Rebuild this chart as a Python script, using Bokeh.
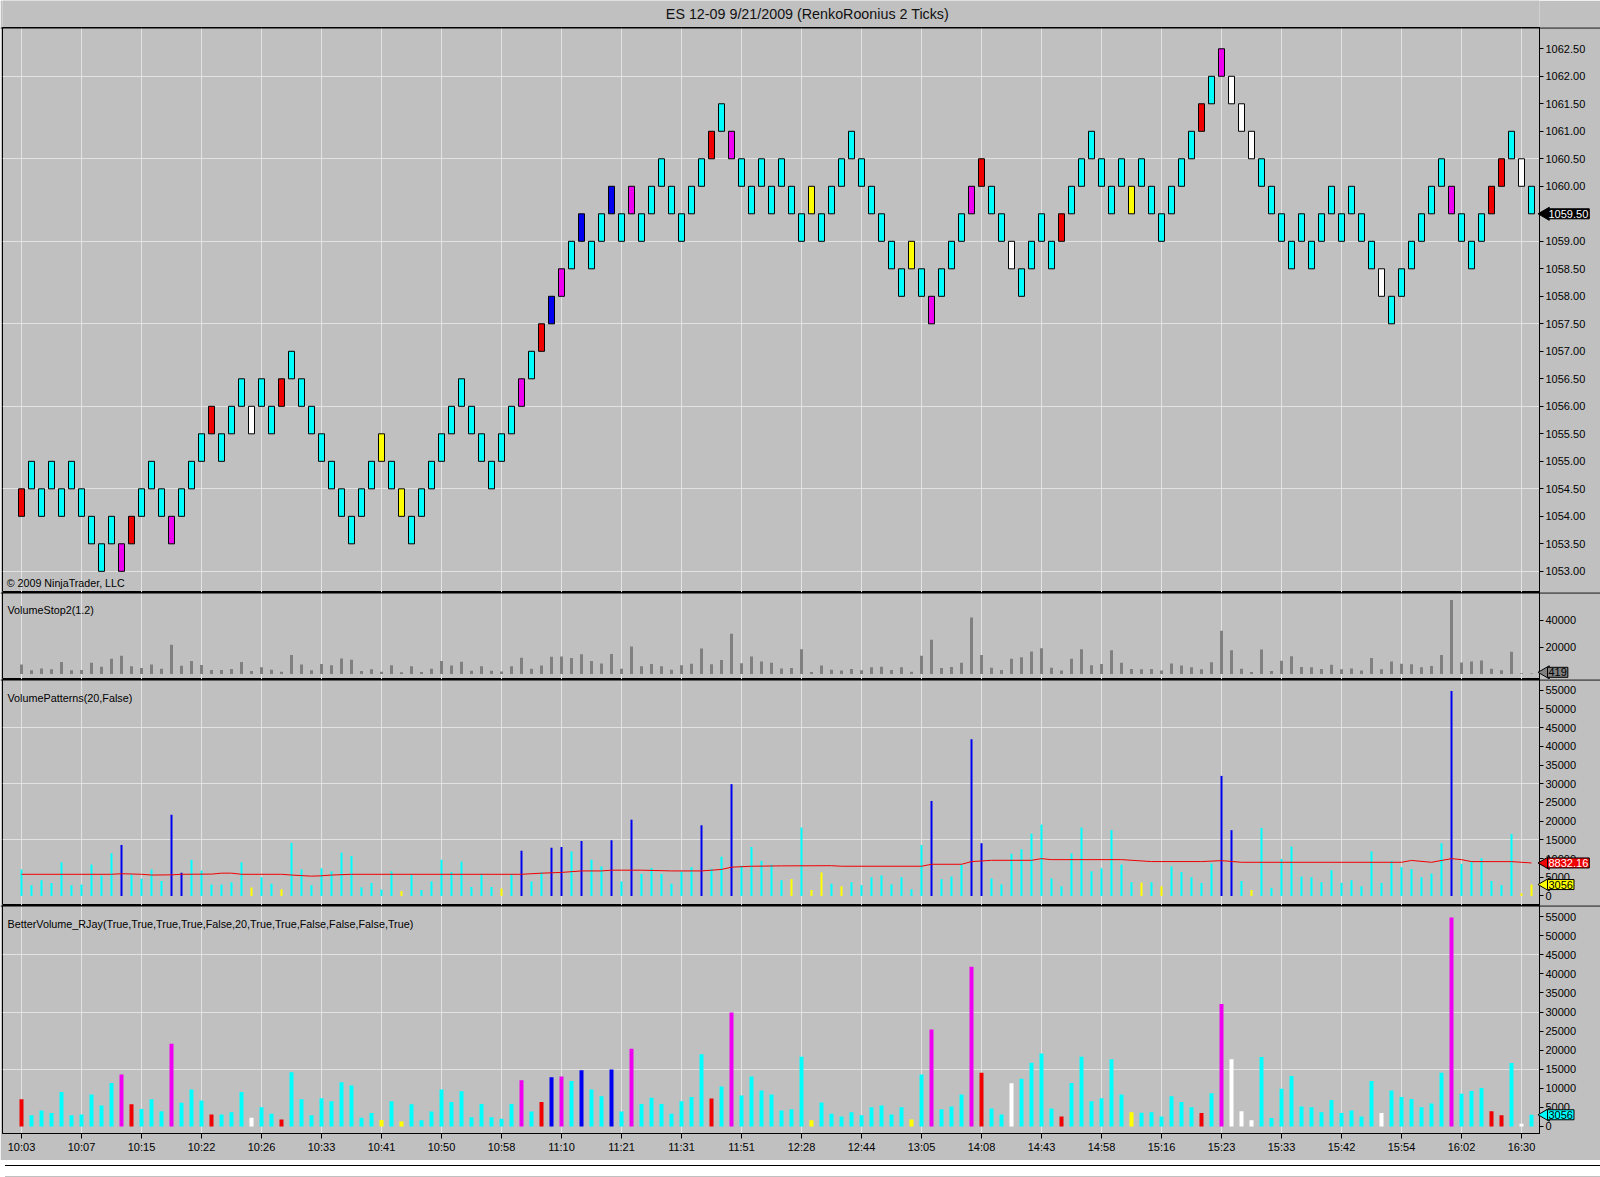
import math
from bokeh.plotting import figure
from bokeh.models import (ColumnDataSource, FixedTicker, Label, Range1d, PrintfTickFormatter,
                          Div, GridBox, Span)
from bokeh.layouts import column
from bokeh.embed import file_html
from bokeh.resources import INLINE

# ---------------- texts ----------------
title_text = "ES 12-09  9/21/2009 (RenkoRoonius 2 Ticks)"
copyright_text = "\u00a9 2009 NinjaTrader, LLC"
vs_name = "VolumeStop2(1.2)"
vp_name = "VolumePatterns(20,False)"
bv_name = "BetterVolume_RJay(True,True,True,True,False,20,True,True,False,False,False,True)"

# ---------------- data ----------------
brick_size = 0.5  # 2 ticks of 0.25
brick_high = [
    1054.5, 1055.0, 1054.5, 1055.0, 1054.5, 1055.0, 1054.5, 1054.0, 1053.5, 1054.0,
    1053.5, 1054.0, 1054.5, 1055.0, 1054.5, 1054.0, 1054.5, 1055.0, 1055.5, 1056.0,
    1055.5, 1056.0, 1056.5, 1056.0, 1056.5, 1056.0, 1056.5, 1057.0, 1056.5, 1056.0,
    1055.5, 1055.0, 1054.5, 1054.0, 1054.5, 1055.0, 1055.5, 1055.0, 1054.5, 1054.0,
    1054.5, 1055.0, 1055.5, 1056.0, 1056.5, 1056.0, 1055.5, 1055.0, 1055.5, 1056.0,
    1056.5, 1057.0, 1057.5, 1058.0, 1058.5, 1059.0, 1059.5, 1059.0, 1059.5, 1060.0,
    1059.5, 1060.0, 1059.5, 1060.0, 1060.5, 1060.0, 1059.5, 1060.0, 1060.5, 1061.0,
    1061.5, 1061.0, 1060.5, 1060.0, 1060.5, 1060.0, 1060.5, 1060.0, 1059.5, 1060.0,
    1059.5, 1060.0, 1060.5, 1061.0, 1060.5, 1060.0, 1059.5, 1059.0, 1058.5, 1059.0,
    1058.5, 1058.0, 1058.5, 1059.0, 1059.5, 1060.0, 1060.5, 1060.0, 1059.5, 1059.0,
    1058.5, 1059.0, 1059.5, 1059.0, 1059.5, 1060.0, 1060.5, 1061.0, 1060.5, 1060.0,
    1060.5, 1060.0, 1060.5, 1060.0, 1059.5, 1060.0, 1060.5, 1061.0, 1061.5, 1062.0,
    1062.5, 1062.0, 1061.5, 1061.0, 1060.5, 1060.0, 1059.5, 1059.0, 1059.5, 1059.0,
    1059.5, 1060.0, 1059.5, 1060.0, 1059.5, 1059.0, 1058.5, 1058.0, 1058.5, 1059.0,
    1059.5, 1060.0, 1060.5, 1060.0, 1059.5, 1059.0, 1059.5, 1060.0, 1060.5, 1061.0,
    1060.5, 1060.0,
]

# colour code per brick (also used by BetterVolume bars)
brick_color = list(
    "rccccccccc" "mrcccmcccr" "cccwccrccc" "ccccccycyc" "cccccccccc"
    "mcrbmcbccb" "cmcccccccr" "cmcccccccy" "cccccccccy" "cmcccmrccw"
    "ccccrccccc" "cyccccccrc" "mwwwcccccc" "ccccccwccc" "cccmcccrrc"
    "wc"
)

volume = [
    7100, 2900, 4200, 3500, 9000, 2900, 3100, 8400, 5500, 11400,
    13600, 5800, 4600, 7100, 4000, 21700, 6200, 9700, 6800, 3100,
    3100, 3700, 9000, 2300, 5000, 3300, 1800, 14200, 7100, 2900,
    7400, 6600, 11600, 10700, 2300, 3500, 1700, 6600, 1300, 5800,
    1600, 3900, 9700, 6400, 9200, 2400, 5900, 2400, 2000, 5900,
    12100, 3900, 6400, 12900, 13100, 11900, 14700, 9700, 7900, 14900,
    3900, 20400, 5900, 7500, 5900, 3300, 6600, 7700, 18900, 7300,
    10500, 29900, 8100, 13100, 9400, 8400, 4200, 4500, 18300, 1600,
    6300, 3300, 2600, 3700, 2900, 5000, 5500, 3100, 5000, 1800,
    13600, 25400, 4500, 5200, 8400, 41900, 14100, 4700, 3100, 11300,
    12500, 16700, 19100, 4700, 2600, 11400, 18300, 6600, 7400, 17600,
    8400, 3700, 3600, 3700, 2600, 7900, 6400, 5000, 3500, 8700,
    32100, 17600, 4000, 1600, 18200, 2200, 9900, 13200, 5200, 5000,
    3700, 6900, 3500, 4200, 2600, 11900, 3500, 9400, 7700, 7200,
    5000, 6000, 14100, 54800, 8600, 9300, 10100, 4000, 2900, 16600,
    700, 3056,
]

vp_color = list(
    "cccccccccc" "bccccbbccc" "cccyccyccc" "ccccccccyc" "ccccccccyc"
    "bccbbcbccb" "cbccccccbc" "cbcccccycy" "ycyccccccc" "cbcccbbccc"
    "cccccccccc" "ccycyccccc" "bbcycccccc" "cccccccccc" "cccbcccccc"
    "yy"
)

vstop_last = 419
vstop = volume[:-1] + [vstop_last]

avg_bar = [0, 9, 10, 12, 13, 15, 16, 19, 20, 21,
           22, 26, 27, 28, 29, 30, 31, 33, 50, 52,
           54, 56, 58, 59, 62, 65, 68, 69, 70, 71,
           73, 76, 81, 82, 90, 91, 94, 95, 97, 101,
           102, 103, 110, 113, 118, 120, 122, 138, 139, 141,
           143, 144, 145, 149, 151]
avg_val = [5800, 5800, 5950, 5800, 5600, 5650, 5800, 5850, 6100, 6100,
           5800, 5800, 5600, 5450, 5300, 5400, 5600, 5800, 5800, 6100,
           6300, 6700, 6700, 6900, 6900, 6700, 6700, 6900, 7100, 7700,
           7950, 8050, 8100, 7950, 7950, 8480, 8480, 9190, 9540, 9540,
           9980, 9720, 9720, 9200, 9200, 9450, 9010, 9010, 9500, 9010,
           9980, 9720, 9190, 9190, 8832.16]

time_ticks = [0, 6, 12, 18, 24, 30, 36, 42, 48, 54, 60, 66, 72, 78, 84, 90,
              96, 102, 108, 114, 120, 126, 132, 138, 144, 150]
time_labels = ["10:03", "10:07", "10:15", "10:22", "10:26", "10:33", "10:41", "10:50",
               "10:58", "11:10", "11:21", "11:31", "11:51", "12:28", "12:44", "13:05",
               "14:08", "14:43", "14:58", "15:16", "15:23", "15:33", "15:42", "15:54",
               "16:02", "16:30"]

price_ticks = [1053.0, 1053.5, 1054.0, 1054.5, 1055.0, 1055.5, 1056.0, 1056.5, 1057.0, 1057.5,
               1058.0, 1058.5, 1059.0, 1059.5, 1060.0, 1060.5, 1061.0, 1061.5, 1062.0, 1062.5]
price_grid = [1053.0, 1054.5, 1056.0, 1057.5, 1059.0, 1060.5, 1062.0]
vol_ticks = [0, 5000, 10000, 15000, 20000, 25000, 30000, 35000, 40000, 45000, 50000, 55000]
vol_grid = [15000, 30000, 45000]
vs_ticks = [20000, 40000]

last_price = 1059.50
last_avg = 8832.16
last_volume = 3056

# ---------------- style ----------------
COL = {"c": "#00FFFF", "r": "#F00000", "m": "#F000F0", "b": "#0000F0",
       "w": "#FFFFFF", "y": "#FFFF00"}
BG = "#C0C0C0"
GRID = "#E2E2E2"
FONT = "Liberation Sans"
W = 1600
BL, BR = 2, 61           # left / right borders of every panel (px)
N = len(brick_high)
XR0, XR1 = -1.9, 151.8
PPU = (W - BL - BR) / (XR1 - XR0)   # px per brick
OX0, OX1 = XR0 - BL / PPU, XR1 + BR / PPU
xr = Range1d(XR0, XR1)
idx = list(range(N))


def make_panel(h, yr, bottom=0, xaxis=False):
    p = figure(width=W, height=h, x_range=xr, y_range=yr,
               output_backend="svg", toolbar_location=None,
               y_axis_location="right",
               x_axis_location="below" if xaxis else None)
    p.min_border_left = BL
    p.min_border_right = BR
    p.min_border_top = 0
    p.min_border_bottom = bottom
    p.background_fill_color = BG
    p.border_fill_color = BG
    p.outline_line_color = "black"
    p.outline_line_width = 1
    p.xgrid.ticker = FixedTicker(ticks=time_ticks)
    p.grid.grid_line_color = GRID
    p.grid.grid_line_width = 1
    for ax in p.yaxis:
        ax.axis_line_color = "black"
        ax.major_tick_line_color = "black"
        ax.major_tick_out = 4
        ax.major_tick_in = 0
        ax.minor_tick_line_color = None
        ax.major_label_text_font = FONT
        ax.major_label_text_font_size = "11px"
        ax.major_label_text_color = "black"
        ax.major_label_standoff = 2
    return p


def make_overlay(h, yr, bottom=0):
    # transparent layer over a panel, spanning its whole width (incl. the value column)
    o = figure(width=W, height=h, x_range=Range1d(OX0, OX1), y_range=yr,
               output_backend="svg", toolbar_location=None,
               x_axis_location=None, y_axis_location=None)
    o.min_border_left = 0
    o.min_border_right = 0
    o.min_border_top = 0
    o.min_border_bottom = bottom
    o.grid.visible = False
    o.outline_line_color = None
    o.background_fill_color = None
    o.border_fill_color = None
    o.add_layout(Span(location=yr.end, dimension="width", line_color="black", line_width=2))
    return o


def name_label(p, y, text):
    p.add_layout(Label(x=XR0 + 0.5, y=y, text=text, text_font=FONT,
                       text_font_size="10.8px", text_color="black",
                       text_baseline="middle", text_align="left"))


def tag(o, y, text, fill, tcolor):
    o.scatter(x=[XR1 + 6 / PPU], y=[y], marker="triangle", size=13, angle=math.pi / 2,
              fill_color=fill, line_color="black", line_width=1)
    o.add_layout(Label(x=XR1 + 8 / PPU, y=y, text=text, text_color=tcolor,
                       background_fill_color=fill, border_line_color="black",
                       padding=1, text_font=FONT, text_font_size="11px",
                       text_align="left", text_baseline="middle"))


# ---------------- title bar ----------------
tf = figure(width=W, height=27, x_range=Range1d(0, 1), y_range=Range1d(0, 1),
            output_backend="svg", toolbar_location=None,
            x_axis_location=None, y_axis_location=None)
tf.min_border_left = BL
tf.min_border_right = BR
tf.min_border_top = 0
tf.min_border_bottom = 0
tf.grid.visible = False
tf.outline_line_color = None
tf.background_fill_color = BG
tf.border_fill_color = BG
tf.add_layout(Label(x=0.525, y=0.5, text=title_text, text_align="center",
                    text_baseline="middle", text_font=FONT, text_font_size="14.3px",
                    text_color="#111111"))

# ---------------- price panel ----------------
yr_p = Range1d(1052.615, 1062.887)
pp = make_panel(565, yr_p)
pp.ygrid.ticker = FixedTicker(ticks=price_grid)
pp.yaxis.ticker = FixedTicker(ticks=price_ticks)
pp.yaxis.formatter = PrintfTickFormatter(format="%.2f")
psrc = ColumnDataSource(dict(x=idx, low=[h - brick_size for h in brick_high],
                             high=brick_high, color=[COL[c] for c in brick_color]))
pp.vbar(x="x", width=0.6, bottom="low", top="high", fill_color="color",
        line_color="black", line_width=1, source=psrc)
pp.add_layout(Label(x=XR0 + 0.42, y=1052.78, text=copyright_text, text_font=FONT,
                    text_font_size="10.7px", text_color="black", text_baseline="middle"))
op = make_overlay(565, yr_p)
tag(op, last_price, "%.2f" % last_price, "#000000", "white")

# ---------------- VolumeStop2 panel ----------------
yr_v = Range1d(-4000, 60400)
pv = make_panel(87, yr_v)
pv.ygrid.visible = False
pv.yaxis.ticker = FixedTicker(ticks=vs_ticks)
pv.yaxis.formatter = PrintfTickFormatter(format="%d")
pv.vbar(x=idx, width=0.3, top=vstop, bottom=0, fill_color="#808080", line_color=None)
name_label(pv, 47800, vs_name)
ov = make_overlay(87, yr_v)
tag(ov, vstop_last + 900, str(vstop_last), "#808080", "black")

# ---------------- VolumePatterns panel ----------------
yr_vp = Range1d(-2540, 57860)
pvp = make_panel(226, yr_vp)
pvp.ygrid.ticker = FixedTicker(ticks=vol_grid)
pvp.yaxis.ticker = FixedTicker(ticks=vol_ticks)
pvp.yaxis.formatter = PrintfTickFormatter(format="%d")
pvp.vbar(x=idx, width=0.2, top=volume, bottom=0,
         fill_color=[COL[c] for c in vp_color], line_color=None)
pvp.line(x=avg_bar, y=avg_val, line_color="#F00000", line_width=1)
name_label(pvp, 53000, vp_name)
ovp = make_overlay(226, yr_vp)
tag(ovp, last_avg, "%.2f" % last_avg, "#F00000", "white")
tag(ovp, last_volume, str(last_volume), "#FFFF00", "black")

# ---------------- BetterVolume panel ----------------
yr_bv = Range1d(-1855, 57930)
pbv = make_panel(255, yr_bv, bottom=27, xaxis=True)
pbv.ygrid.ticker = FixedTicker(ticks=vol_grid)
pbv.yaxis.ticker = FixedTicker(ticks=vol_ticks)
pbv.yaxis.formatter = PrintfTickFormatter(format="%d")
pbv.vbar(x=idx, width=0.4, top=volume, bottom=0,
         fill_color=[COL[c] for c in brick_color], line_color=None)
xa = pbv.xaxis[0]
xa.ticker = FixedTicker(ticks=time_ticks)
xa.major_label_overrides = {t: lab for t, lab in zip(time_ticks, time_labels)}
xa.axis_line_color = "black"
xa.major_tick_line_color = "black"
xa.major_tick_out = 5
xa.major_tick_in = 0
xa.minor_tick_line_color = None
xa.major_label_text_font = FONT
xa.major_label_text_font_size = "11px"
xa.major_label_text_color = "black"
xa.major_label_standoff = 2
name_label(pbv, 53150, bv_name)
obv = make_overlay(255, yr_bv, bottom=27)
tag(obv, last_volume, str(last_volume), "#00FFFF", "black")

bottom_line = Div(width=W, height=1, styles={"background-color": "black"})
bottom_strip = Div(width=W, height=16, styles={"background-color": BG})

layout = GridBox(children=[
    (tf, 0, 0),
    (pp, 1, 0), (column(op), 1, 0),
    (pv, 2, 0), (column(ov), 2, 0),
    (pvp, 3, 0), (column(ovp), 3, 0),
    (pbv, 4, 0), (column(obv), 4, 0),
    (bottom_line, 5, 0),
    (bottom_strip, 6, 0),
], spacing=0)

open("out.html", "w").write(file_html(layout, INLINE))
